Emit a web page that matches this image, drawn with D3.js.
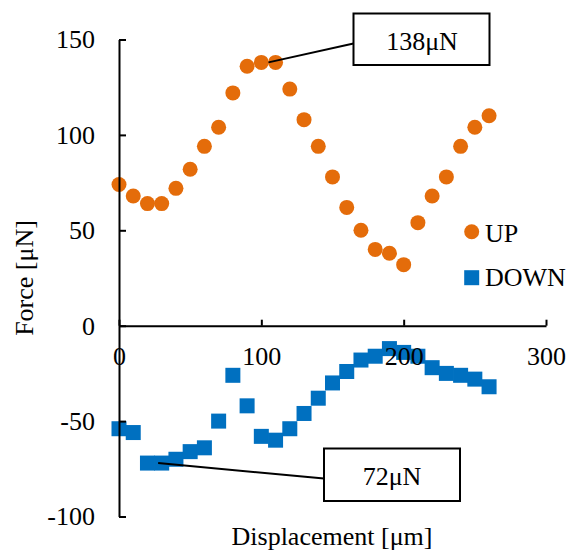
<!DOCTYPE html>
<html>
<head>
<meta charset="utf-8">
<script src="https://cdn.jsdelivr.net/npm/d3@7"></script>
<style>
  body { margin: 0; background: #fff; }
  text { font-family: "Liberation Serif", "Times New Roman", serif; fill: #000; }
</style>
</head>
<body>
<div id="vis-holder"></div>
<script>
// Data
const displacement = [0, 10, 20, 30, 40, 50, 60, 70, 80, 90, 100, 110, 120, 130, 140,
                      150, 160, 170, 180, 190, 200, 210, 220, 230, 240, 250, 260];
const forceUp = [74, 68, 64, 64, 72, 82, 94, 104, 122, 136, 138, 138, 124, 108, 94,
                 78, 62, 50, 40, 38, 32, 54, 68, 78, 94, 104, 110];
const forceDown = [-54, -56, -72, -72, -70, -66, -64, -50, -26, -42, -58, -60, -54, -46, -38,
                   -30, -24, -18, -16, -12, -14, -16, -22, -25, -26, -28, -32];
const xTicks = [0, 100, 200, 300];
const yTicks = [-100, -50, 0, 50, 100, 150];
const seriesNames = ["UP", "DOWN"];
const seriesColors = ["#E46C0A", "#0070C0"];
const callouts = [
  { label: "138μN", x: 105, y: 138 },
  { label: "72μN", x: 27.5, y: -72 }
];

const width = 570;
const height = 551;

const svg = d3.select("#vis-holder")
              .append("svg")
              .attr("width", width)
              .attr("height", height);

// Scales
const x = d3.scaleLinear()
            .domain([0, 300])
            .range([119, 546]);

const y = d3.scaleLinear()
            .domain([-100, 150])
            .range([516.5, 39.5]);

const upData = displacement.map((d, i) => ({ x: d, y: forceUp[i] }));
const downData = displacement.map((d, i) => ({ x: d, y: forceDown[i] }));

// Points (drawn before the axes so tick labels sit on top, like Excel)
svg.append("g")
   .selectAll("circle")
   .data(upData)
   .enter()
     .append("circle")
     .attr("cx", (d) => x(d.x))
     .attr("cy", (d) => y(d.y))
     .attr("r", 7.5)
     .style("fill", seriesColors[0]);

const sq = 15;
svg.append("g")
   .selectAll("rect")
   .data(downData)
   .enter()
     .append("rect")
     .attr("x", (d) => x(d.x) - sq / 2)
     .attr("y", (d) => y(d.y) - sq / 2)
     .attr("width", sq)
     .attr("height", sq)
     .style("fill", seriesColors[1]);

// plain hyphen for negatives, like the original
const fmt = (d) => String(d);

// Y axis (ticks point inward)
const yAxis = svg.append("g")
   .attr("transform", `translate(${x(0)},0)`)
   .call(d3.axisLeft(y).tickValues(yTicks).tickFormat(fmt)
           .tickSizeInner(-7).tickSizeOuter(0).tickPadding(24));

// X axis at y = 0 (ticks point up)
const xAxis = svg.append("g")
   .attr("transform", `translate(0,${y(0)})`)
   .call(d3.axisBottom(x).tickValues(xTicks).tickFormat(fmt)
           .tickSizeInner(-6).tickSizeOuter(0).tickPadding(21));

[xAxis, yAxis].forEach((g) => {
  g.select(".domain").attr("stroke", "#000").attr("stroke-width", 2);
  g.selectAll(".tick line").attr("stroke", "#000").attr("stroke-width", 2);
  g.selectAll(".tick text")
   .attr("font-family", "Liberation Serif, serif")
   .attr("font-size", "26px")
   .attr("fill", "#000");
});

// Axis titles
svg.append("text")
   .attr("transform", "translate(33,278) rotate(-90)")
   .attr("text-anchor", "middle")
   .attr("font-size", "26px")
   .text("Force [μN]");

svg.append("text")
   .attr("x", 332)
   .attr("y", 545)
   .attr("text-anchor", "middle")
   .attr("font-size", "26px")
   .text("Displacement [μm]");

// Callouts
const boxes = [
  { x0: 353.5, y0: 13.5, w: 136, h: 51.5, tx: 422, ty: 50, lx: 353.5, ly: 43.5 },
  { x0: 324, y0: 448.5, w: 136, h: 52.5, tx: 392, ty: 485, lx: 324, ly: 478.5 }
];
callouts.forEach((c, i) => {
  const b = boxes[i];
  svg.append("line")
     .attr("x1", x(c.x))
     .attr("y1", y(c.y))
     .attr("x2", b.lx)
     .attr("y2", b.ly)
     .attr("stroke", "#000")
     .attr("stroke-width", 2);
  svg.append("rect")
     .attr("x", b.x0)
     .attr("y", b.y0)
     .attr("width", b.w)
     .attr("height", b.h)
     .attr("fill", "#fff")
     .attr("stroke", "#000")
     .attr("stroke-width", 2);
  svg.append("text")
     .attr("x", b.tx)
     .attr("y", b.ty)
     .attr("text-anchor", "middle")
     .attr("font-size", "26px")
     .text(c.label);
});

// Legend
const legend = svg.append("g");
legend.append("circle")
      .attr("cx", 471.7)
      .attr("cy", 231.7)
      .attr("r", 7.5)
      .style("fill", seriesColors[0]);
legend.append("rect")
      .attr("x", 464.2)
      .attr("y", 270.2)
      .attr("width", sq)
      .attr("height", sq)
      .style("fill", seriesColors[1]);
legend.selectAll("text.leg")
      .data(seriesNames)
      .enter()
        .append("text")
        .attr("class", "leg")
        .attr("x", 485)
        .attr("y", (d, i) => i === 0 ? 241.5 : 286)
        .attr("font-size", "26px")
        .text((d) => d);
</script>
</body>
</html>
